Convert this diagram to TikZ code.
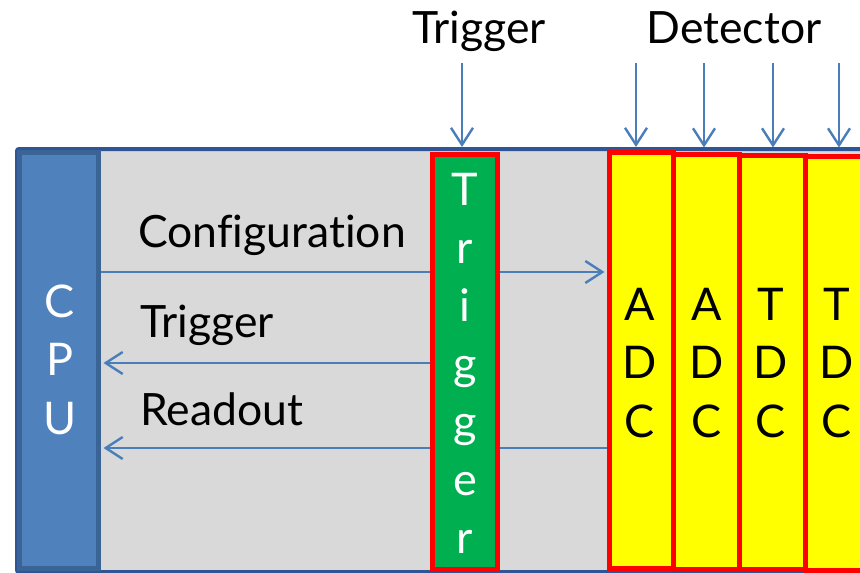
\documentclass[tikz,border=0pt]{standalone}
\usepackage{fontspec}
\setmainfont[Ligatures=NoCommon]{Lato}
\usetikzlibrary{arrows.meta}
\definecolor{panelgray}{HTML}{D9D9D9}
\definecolor{panelblue}{HTML}{2F5597}
\definecolor{cpublue}{HTML}{4F81BD}
\definecolor{cpuborder}{HTML}{3A6496}
\definecolor{linkblue}{HTML}{4A7EBB}
\definecolor{trgreen}{HTML}{00B050}
\definecolor{boxred}{HTML}{FF0000}
\definecolor{adcyellow}{HTML}{FFFF00}
\pgfdeclarelayer{back}
\pgfdeclarelayer{links}
\pgfsetlayers{back,links,main}
\tikzset{
  txt/.style={font=\fontsize{44.5}{50}\selectfont, inner sep=0pt, anchor=base},
  stk/.style={txt, font=\fontsize{45}{50}\selectfont},
  wtxt/.style={stk, text=white},
  modbox/.style={draw=boxred, line width=5pt, inner sep=0pt, rectangle},
  conn/.style={draw=linkblue, line width=2.4pt, -{Straight Barb[length=17pt,width=22pt,line width=2.4pt]}},
}
\begin{document}
\begin{tikzpicture}[x=1pt,y=-1pt]
\useasboundingbox (0,0) rectangle (860,573);
\clip (0,0) rectangle (860,573);
% panel
\begin{pgfonlayer}{back}
\draw[fill=panelgray, draw=panelblue, line width=4pt, rounded corners=2pt] (17,149) rectangle (880,572);
\end{pgfonlayer}
% CPU
\node[rectangle, fill=cpublue, draw=cpuborder, line width=5pt, inner sep=0pt,
      minimum width=79pt, minimum height=416pt] (cpu) at (59,360) {};
\foreach \ch [count=\i] in {C,P,U}
  \node[wtxt] (cpu\i) at (60,{317+58.5*(\i-1)}) {\ch};
% Trigger module
\node[modbox, fill=trgreen, minimum width=65pt, minimum height=415pt] (trig) at (465,362) {};
\foreach \ch [count=\i] in {T,r,i,g,g,e,r}
  \node[wtxt] (tr\i) at (465,{205+58*(\i-1)}) {\ch};
% detector modules
\node[modbox, fill=adcyellow, minimum width=63.5pt, minimum height=415.5pt] (adc1) at (641.25,360.25) {};
\node[modbox, fill=adcyellow, minimum width=66pt, minimum height=415pt] (adc2) at (706,361.5) {};
\node[modbox, fill=adcyellow, minimum width=66pt, minimum height=414.5pt] (tdc1) at (772,362.25) {};
\node[modbox, fill=adcyellow, minimum width=66pt, minimum height=414pt] (tdc2) at (838,363) {};
\foreach \ch [count=\i] in {A,D,C}
  \node[stk] (adcA\i) at (640,{320+58.5*(\i-1)}) {\ch};
\foreach \ch [count=\i] in {A,D,C}
  \node[stk] (adcB\i) at (707,{320+58.5*(\i-1)}) {\ch};
\foreach \ch [count=\i] in {T,D,C}
  \node[stk] (tdcA\i) at (771,{320+58.5*(\i-1)}) {\ch};
\foreach \ch [count=\i] in {T,D,C}
  \node[stk] (tdcB\i) at (837,{320+58.5*(\i-1)}) {\ch};
% labels
\node[txt, anchor=base west] (lcfg) at (138,247) {Configuration};
\node[txt, anchor=base west] (ltrg) at (140,337) {Trigger};
\node[txt, anchor=base west] (lrd) at (140,425) {Readout};
\node[txt] (ttrg) at (479,43) {Trigger};
\node[txt] (tdet) at (734,43) {Detector};
% connectors inside the crate
\coordinate (ycfg) at (0,272);
\coordinate (ytrg) at (0,363);
\coordinate (yrd) at (0,448);
\begin{pgfonlayer}{links}
\draw[conn, shorten >=2.5pt] (cpu.east |- ycfg) -- (adc1.west |- ycfg);
\draw[conn, shorten >=2.5pt] (trig.west |- ytrg) -- (cpu.east |- ytrg);
\draw[conn, shorten >=2.5pt] (adc1.west |- yrd) -- (cpu.east |- yrd);
\end{pgfonlayer}
% input arrows
\coordinate (itrg) at (462,63);
\coordinate (iadc1) at (636,63);
\coordinate (iadc2) at (704,63);
\coordinate (itdc1) at (773,63);
\coordinate (itdc2) at (839,63);
\draw[conn, shorten >=5pt] (itrg) -- (itrg |- trig.north);
\draw[conn, shorten >=3pt] (iadc1) -- (iadc1 |- adc1.north);
\draw[conn, shorten >=4pt] (iadc2) -- (iadc2 |- adc2.north);
\draw[conn, shorten >=5pt] (itdc1) -- (itdc1 |- tdc1.north);
\draw[conn, shorten >=6pt] (itdc2) -- (itdc2 |- tdc2.north);
\end{tikzpicture}
\end{document}
